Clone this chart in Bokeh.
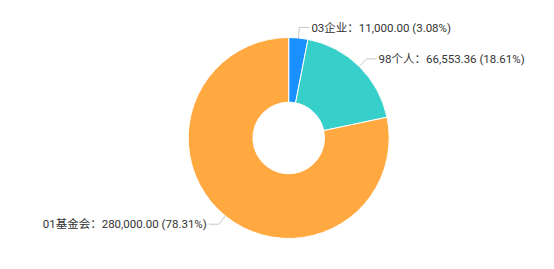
import math
from bokeh.plotting import figure
from bokeh.models import ColumnDataSource
from bokeh.core.properties import value
from bokeh.embed import file_html
from bokeh.resources import INLINE

categories = ["03企业", "98个人", "01基金会"]
amounts = [11000.00, 66553.36, 280000.00]
colors = ["#1890FF", "#36CFC9", "#FFA940"]

W, H = 554, 269
cx, cy = 288.2, H - 137.5
R_OUT, R_IN = 100.5, 35.8
LEN1, LEN2 = 10.5, 10.0

total = sum(amounts)
fracs = [a / total for a in amounts]
starts, ends = [], []
cum = 0.0
for f in fracs:
    starts.append(math.pi / 2 - 2 * math.pi * cum)
    cum += f
    ends.append(math.pi / 2 - 2 * math.pi * cum)

p = figure(width=W, height=H, x_range=(0, W), y_range=(0, H),
           output_backend="svg", toolbar_location=None,
           min_border=0, x_axis_location=None, y_axis_location=None)
p.grid.visible = False
p.outline_line_color = None
p.background_fill_color = "white"

src = ColumnDataSource(dict(x=[cx] * 3, y=[cy] * 3, s=starts, e=ends, c=colors))
p.annular_wedge(x="x", y="y", inner_radius=R_IN, outer_radius=R_OUT,
                start_angle="s", end_angle="e", direction="clock",
                fill_color="c", line_color="white", line_width=1, source=src)

lx, ly, tx, ty, txt, align = [], [], [], [], [], []
for cat, a, f, s, e in zip(categories, amounts, fracs, starts, ends):
    mid = (s + e) / 2
    x1 = cx + R_OUT * math.cos(mid)
    y1 = cy + R_OUT * math.sin(mid)
    x2 = cx + (R_OUT + LEN1) * math.cos(mid)
    y2 = cy + (R_OUT + LEN1) * math.sin(mid)
    right = math.cos(mid) >= 0
    x3 = x2 + (LEN2 if right else -LEN2)
    lx.append([x1, x2, x3])
    ly.append([y1, y2, y2])
    tx.append(x3 + (2 if right else -2))
    ty.append(y2)
    txt.append(f"{cat}：{a:,.2f} ({f*100:.2f}%)")
    align.append("left" if right else "right")

p.multi_line(xs=lx, ys=ly, line_color="#c8c8c8", line_width=1)
p.text(x=tx, y=ty, text=txt, text_align=align, text_baseline="middle",
       text_font=value("Roboto, 'Noto Sans CJK SC'"), text_font_size="11.5px",
       text_color="#333333")

open("out.html", "w").write(file_html(p, INLINE))
